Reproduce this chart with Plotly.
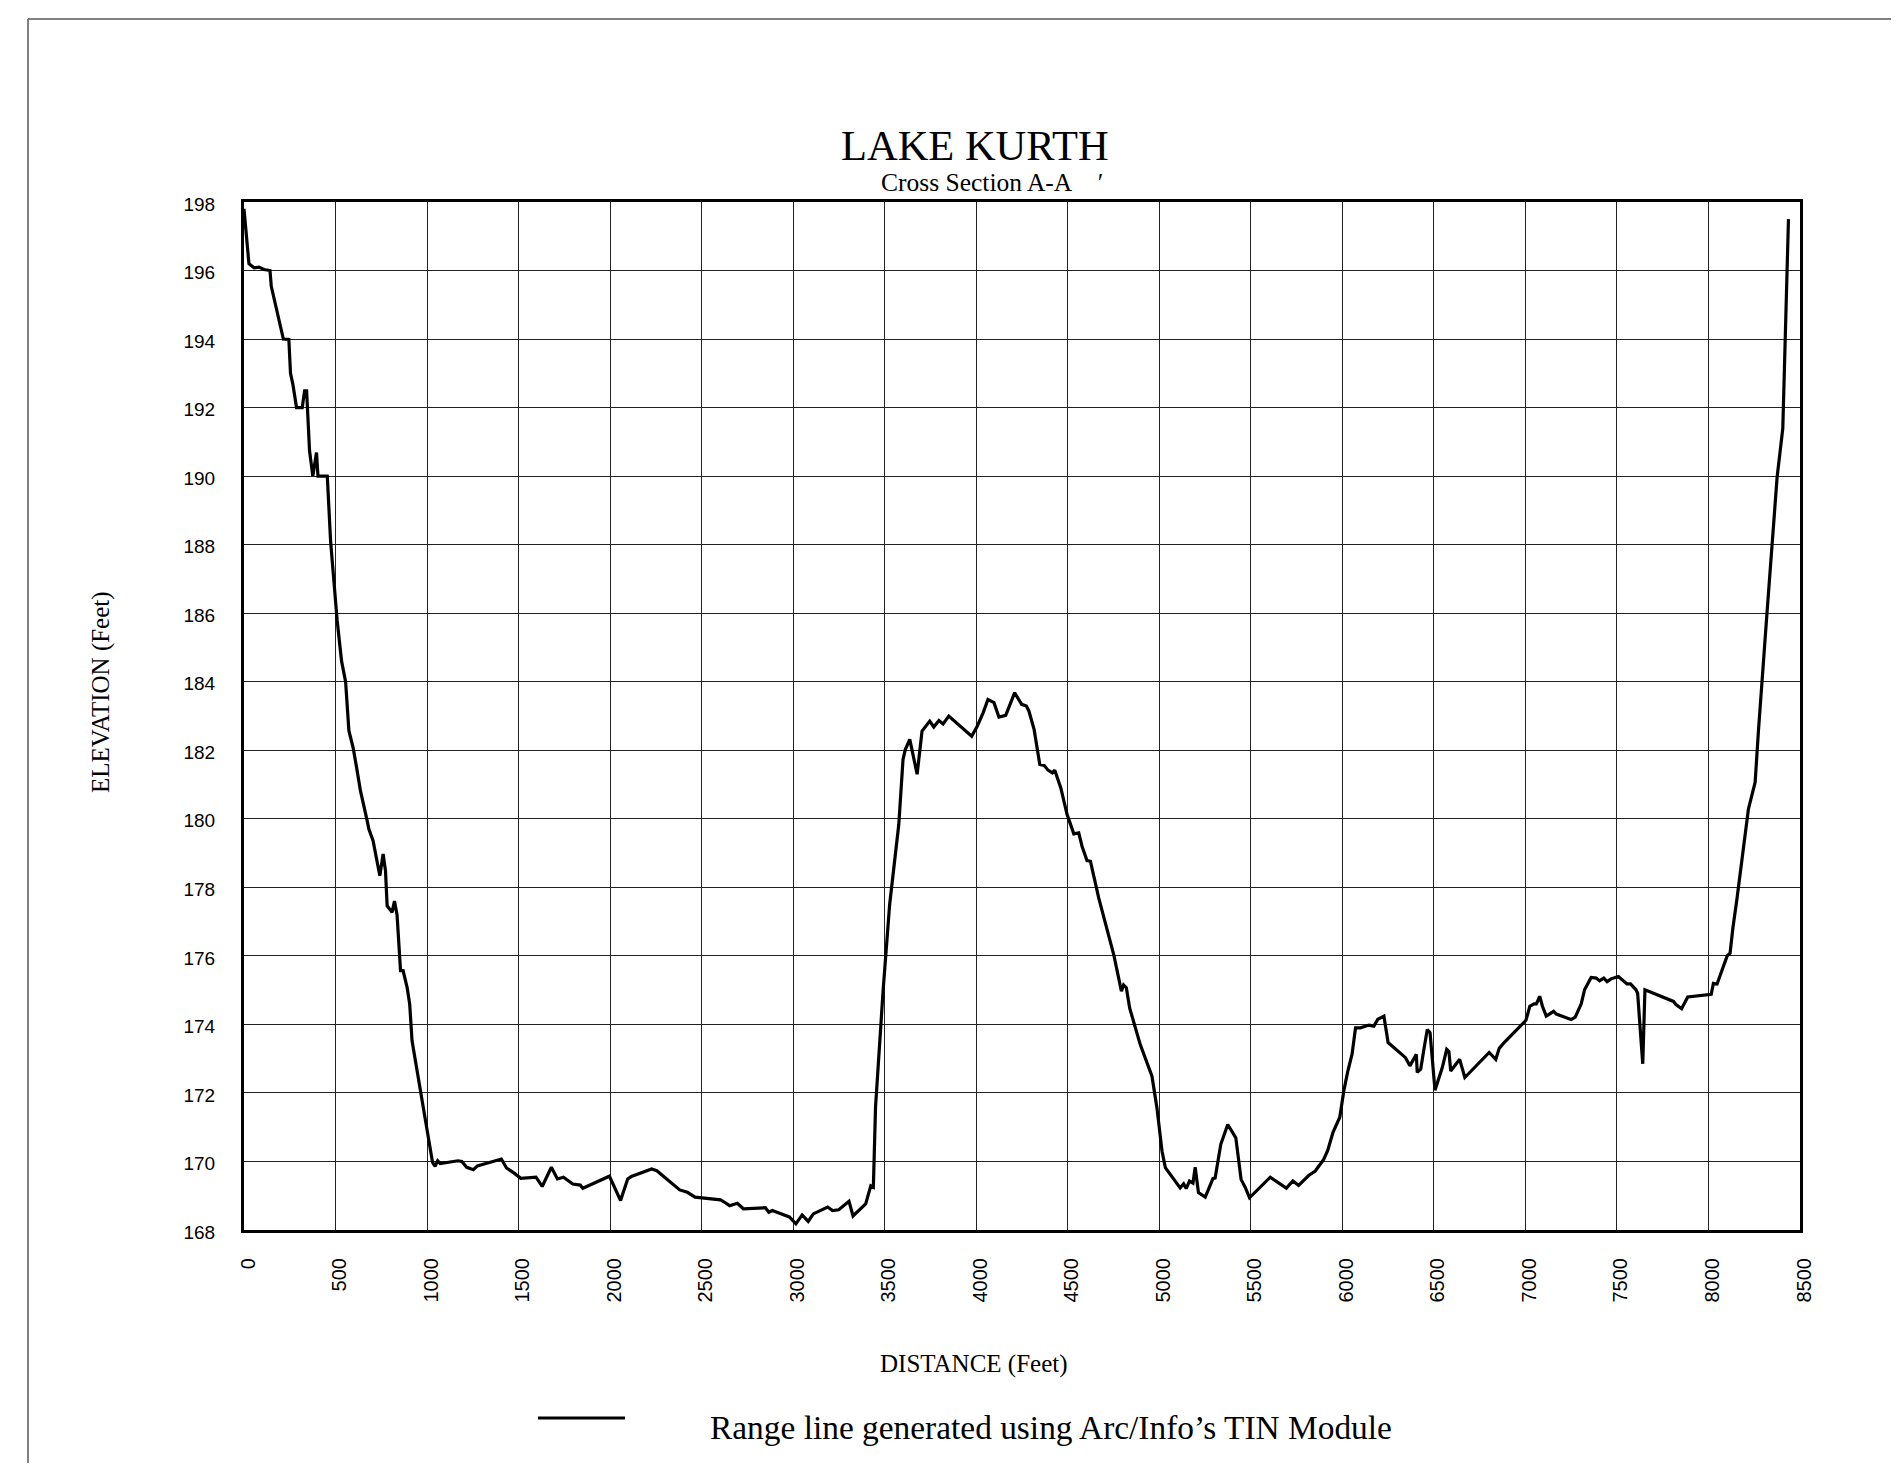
import plotly.graph_objects as go

# ---- data (distance in feet, elevation in feet) ----
distance = [
    0, 27, 55, 82, 109, 142, 149, 178, 215, 245, 254, 267, 287, 318, 331, 342,
    358, 376, 396, 404, 455, 473, 509, 533, 555, 573, 596, 615, 636, 673, 682,
    705, 742, 760, 773, 782, 809, 822, 836, 855, 869, 891, 905, 918, 945, 966,
    1002, 1030, 1044, 1058, 1072, 1169, 1190, 1217, 1253, 1275, 1406, 1434,
    1476, 1512, 1595, 1629, 1679, 1712, 1745, 1796, 1837, 1851, 1996, 2057,
    2096, 2116, 2227, 2255, 2380, 2422, 2464, 2533, 2603, 2625, 2653, 2695,
    2728, 2848, 2867, 2886, 2979, 3015, 3049, 3082, 3110, 3188, 3215, 3249,
    3305, 3327, 3396, 3424, 3438, 3450, 3480, 3491, 3527, 3577, 3600, 3613,
    3637, 3677, 3704, 3746, 3768, 3796, 3819, 3850, 3975, 4006, 4038, 4064,
    4097, 4124, 4161, 4210, 4248, 4274, 4288, 4316, 4347, 4371, 4392, 4416,
    4429, 4444, 4462, 4496, 4533, 4560, 4578, 4605, 4624, 4669, 4751, 4793,
    4805, 4820, 4838, 4896, 4960, 4987, 5000, 5015, 5033, 5069, 5114, 5133,
    5147, 5165, 5184, 5196, 5214, 5251, 5269, 5293, 5305, 5336, 5374, 5418,
    5447, 5469, 5493, 5606, 5694, 5730, 5761, 5816, 5852, 5898, 5920, 5949,
    5986, 6008, 6030, 6053, 6072, 6099, 6145, 6172, 6194, 6227, 6250, 6282,
    6345, 6369, 6391, 6404, 6409, 6428, 6446, 6464, 6479, 6506, 6546, 6570,
    6582, 6592, 6641, 6669, 6802, 6838, 6857, 6884, 7003, 7024, 7047, 7060,
    7078, 7093, 7114, 7133, 7154, 7169, 7250, 7272, 7305, 7323, 7359, 7387,
    7405, 7428, 7446, 7468, 7508, 7555, 7574, 7604, 7613, 7641, 7653, 7809,
    7822, 7853, 7887, 8015, 8027, 8047, 8069, 8087, 8102, 8118, 8133, 8156,
    8187, 8218, 8255, 8273, 8320, 8346, 8375, 8406, 8418, 8430, 8437,
]
elevation = [
    197.8, 196.2, 196.08, 196.1, 196.03, 196.0, 195.54, 194.9, 194.0, 193.99,
    193.0, 192.68, 192.0, 192.0, 192.49, 192.49, 190.74, 190.0, 190.69, 190.0,
    190.0, 188.1, 185.78, 184.6, 184.0, 182.57, 182.08, 181.5, 180.82, 179.94,
    179.7, 179.36, 178.34, 178.97, 178.48, 177.46, 177.27, 177.6, 177.2,
    175.57, 175.57, 175.08, 174.6, 173.52, 172.65, 172.05, 170.9, 169.97,
    169.86, 170.02, 169.94, 170.02, 170.0, 169.83, 169.76, 169.87, 170.07,
    169.81, 169.66, 169.51, 169.54, 169.27, 169.83, 169.49, 169.54, 169.34,
    169.31, 169.22, 169.57, 168.86, 169.49, 169.56, 169.78, 169.73, 169.17,
    169.1, 168.96, 168.91, 168.88, 168.81, 168.71, 168.78, 168.62, 168.65,
    168.52, 168.57, 168.38, 168.18, 168.44, 168.25, 168.47, 168.67, 168.57,
    168.59, 168.84, 168.41, 168.76, 169.29, 169.25, 171.6, 174.2, 174.97,
    177.5, 179.84, 181.73, 182.03, 182.32, 181.3, 182.56, 182.85, 182.68,
    182.87, 182.77, 183.0, 182.41, 182.71, 183.1, 183.48, 183.39, 182.97,
    183.02, 183.68, 183.34, 183.29, 183.14, 182.61, 181.59, 181.56, 181.42,
    181.34, 181.42, 181.15, 180.9, 180.13, 179.56, 179.59, 179.2, 178.78,
    178.76, 177.69, 176.04, 174.97, 175.15, 175.07, 174.48, 173.41, 172.49,
    171.57, 170.98, 170.3, 169.82, 169.57, 169.23, 169.35, 169.21, 169.43,
    169.37, 169.83, 169.09, 168.96, 169.18, 169.5, 169.52, 170.5, 171.08,
    170.69, 169.47, 169.25, 168.94, 169.54, 169.22, 169.43, 169.3, 169.59,
    169.72, 170.06, 170.32, 170.85, 171.29, 172.06, 172.64, 173.13, 173.9,
    173.9, 173.98, 173.95, 174.15, 174.24, 173.47, 173.32, 173.03, 172.79,
    172.98, 173.13, 172.6, 172.69, 173.29, 173.85, 173.76, 172.08, 172.74,
    173.27, 173.21, 172.64, 172.98, 172.45, 173.18, 172.98, 173.3, 173.47,
    174.12, 174.53, 174.6, 174.6, 174.82, 174.53, 174.24, 174.3, 174.38,
    174.3, 174.14, 174.21, 174.6, 175.01, 175.37, 175.35, 175.27, 175.35,
    175.25, 175.33, 175.4, 175.18, 175.18, 175.01, 174.91, 172.85, 175.01,
    174.67, 174.58, 174.46, 174.8, 174.88, 175.2, 175.18, 175.53, 175.76,
    176.0, 176.08, 176.8, 177.68, 178.94, 180.28, 181.07, 182.57, 186.03,
    187.92, 189.97, 191.39, 193.59, 195.64, 197.5,
]

x_ticks = list(range(0, 8501, 500))
y_ticks = list(range(168, 199, 2))

title_text = "LAKE KURTH"
subtitle_text = "Cross Section A-A\u00a0\u00a0\u00a0\u00a0\u2032"
x_title = "DISTANCE (Feet)"
y_title = "ELEVATION (Feet)"
legend_text = "Range line generated using Arc/Info\u2019s TIN Module"

# ---- layout geometry ----
W, H = 1883, 1455
ML, MR, MT, MB = 236, 91, 194, 233
OFF = 8  # default page body margin


def px(xp):
    return (xp - OFF - ML) / (W - ML - MR)


def py(yp):
    return 1 - (yp - OFF - MT) / (H - MT - MB)


SERIF = "Liberation Serif, Times New Roman, serif"
SANS = "Liberation Sans, Arial, sans-serif"

fig = go.Figure()
fig.add_trace(go.Scatter(
    x=distance, y=elevation, mode="lines",
    line=dict(color="black", width=3.2),
    name=legend_text, showlegend=False,
))

fig.update_layout(
    width=W, height=H,
    margin=dict(l=ML, r=MR, t=MT, b=MB),
    paper_bgcolor="white", plot_bgcolor="white",
    showlegend=False,
)

fig.update_xaxes(
    range=[0, 8500], tickmode="array", tickvals=x_ticks,
    ticktext=[str(v) for v in x_ticks], tickangle=-90,
    tickfont=dict(family=SANS, size=20, color="black"),
    ticks="", ticklabelstandoff=17, ticklabelshift=4,
    showgrid=True, gridcolor="#222222", gridwidth=1,
    showline=True, linecolor="black", linewidth=3, mirror=True,
    zeroline=False,
)
fig.update_yaxes(
    range=[168, 198], tickmode="array", tickvals=y_ticks,
    ticktext=[str(v) for v in y_ticks],
    tickfont=dict(family=SANS, size=19, color="black"),
    ticks="", ticklabelstandoff=22, ticklabelshift=2,
    showgrid=True, gridcolor="#222222", gridwidth=1,
    showline=True, linecolor="black", linewidth=3, mirror=True,
    zeroline=False,
)

ann = [
    dict(text=title_text, x=px(975), y=py(146), xanchor="center",
         font=dict(family=SERIF, size=42.5, color="black")),
    dict(text=subtitle_text, x=px(880), y=py(182), xanchor="left",
         font=dict(family=SERIF, size=25.5, color="black")),
    dict(text=x_title, x=px(974), y=py(1364), xanchor="center",
         font=dict(family=SERIF, size=25, color="black")),
    dict(text=y_title, x=px(101), y=py(692), xanchor="center", textangle=-90,
         font=dict(family=SERIF, size=25, color="black")),
    dict(text=legend_text, x=px(709), y=py(1427), xanchor="left",
         font=dict(family=SERIF, size=33.4, color="black")),
]
for a in ann:
    a.update(xref="paper", yref="paper", showarrow=False, yanchor="middle", borderpad=0)
    fig.add_annotation(**a)

# legend line sample
fig.add_shape(type="line", xref="paper", yref="paper",
              x0=px(538), x1=px(625), y0=py(1418), y1=py(1418),
              line=dict(color="black", width=3))
# page frame lines (top and left)
fig.add_shape(type="line", xref="paper", yref="paper",
              x0=px(28), x1=px(1899), y0=py(19), y1=py(19),
              line=dict(color="#808080", width=2))
fig.add_shape(type="line", xref="paper", yref="paper",
              x0=px(28), x1=px(28), y0=py(19), y1=py(1480),
              line=dict(color="#808080", width=2))

fig.write_html("out.html")
